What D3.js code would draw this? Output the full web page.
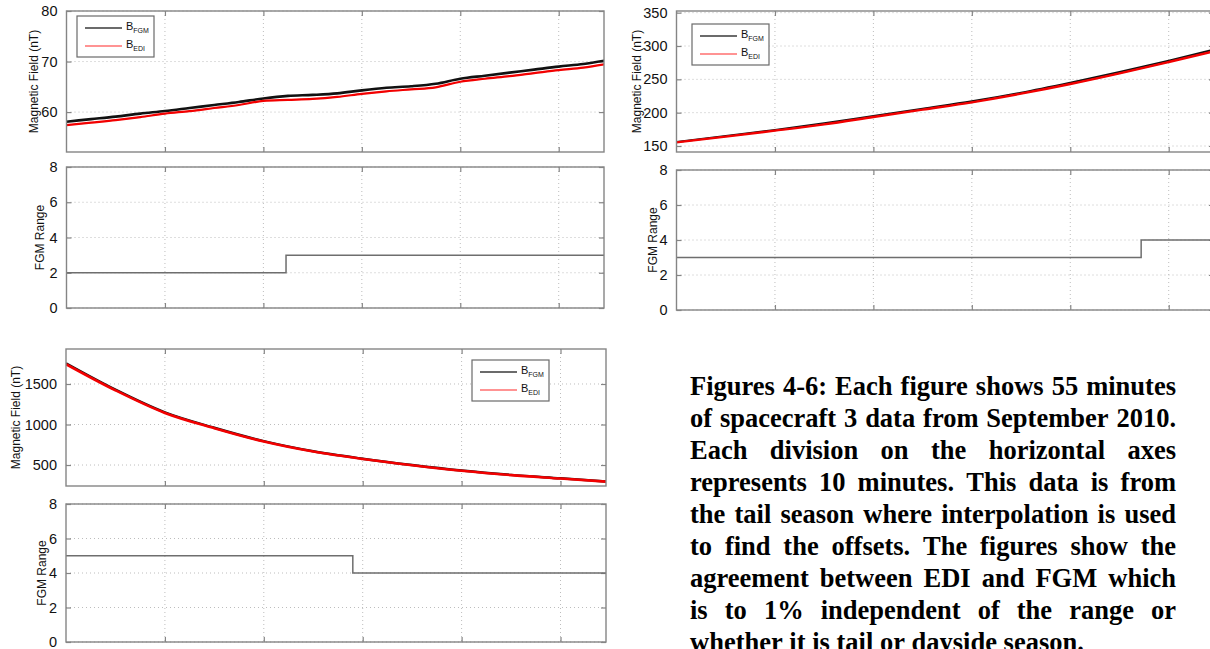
<!DOCTYPE html>
<html>
<head>
<meta charset="utf-8">
<script src="https://cdn.jsdelivr.net/npm/d3@7"></script>
<style>
  body { margin: 0; background: #fff; }
  svg { display: block; }
</style>
</head>
<body>
<svg id="fig" width="1210" height="649"></svg>
<script>
// ---- sample times (minutes since start of interval) ----
const tFine = [0, 2.5, 5, 7.5, 10, 12.5, 15, 17.5, 20, 22.5, 25, 27.5, 30, 32.5, 35, 37.5, 40, 42.5, 45, 47.5, 50, 52.5, 55];
const tCoarse = [0, 5, 10, 15, 20, 25, 30, 35, 40, 45, 50, 55];

// ---- Figure 4: |B| from FGM and EDI (nT) ----
const fig4Fgm = [58.1, 58.6, 59.1, 59.7, 60.2, 60.8, 61.4, 62.0, 62.7, 63.2, 63.4, 63.7, 64.3, 64.8, 65.1, 65.6, 66.6, 67.2, 67.8, 68.4, 69.0, 69.5, 70.3];
const fig4Edi = [57.4, 57.9, 58.4, 59.0, 59.7, 60.2, 60.8, 61.4, 62.2, 62.4, 62.6, 63.0, 63.6, 64.1, 64.5, 64.9, 66.0, 66.6, 67.1, 67.7, 68.3, 68.8, 69.6];
const fig4RangeTimes = [0, 22.3, 54.6];
const fig4RangeValues = [2, 3, 3];

// ---- Figure 5 ----
const fig5Fgm = [156, 165, 174, 184, 195, 206, 217, 230, 245, 261, 278, 296];
const fig5Edi = [155.5, 164, 173, 182.5, 193.5, 204.5, 215.5, 228.5, 243, 259, 276, 293.5];
const fig5RangeTimes = [0, 47.2, 54.6];
const fig5RangeValues = [3, 4, 4];

// ---- Figure 6 ----
const fig6Fgm = [1755, 1430, 1150, 960, 795, 670, 578, 500, 432, 378, 336, 294];
const fig6Edi = [1745, 1422, 1143, 954, 790, 666, 574, 497, 429, 375, 333, 291];
const fig6RangeTimes = [0, 29.0, 54.6];
const fig6RangeValues = [5, 4, 4];

// ---- axis ticks ----
const timeTicks = [10, 20, 30, 40, 50];
const fig4FieldTicks = [60, 70, 80];
const fig5FieldTicks = [150, 200, 250, 300, 350];
const fig6FieldTicks = [500, 1000, 1500];
const rangeTicks = [0, 2, 4, 6, 8];

const captionLines = [
  "Figures 4-6: Each figure shows 55 minutes",
  "of spacecraft 3 data from September 2010.",
  "Each division on the horizontal axes",
  "represents 10 minutes. This data is from",
  "the tail season where interpolation is used",
  "to find the offsets. The figures show the",
  "agreement between EDI and FGM which",
  "is to 1% independent of the range or",
  "whether it is tail or dayside season."
];

const svg = d3.select("#fig");
const FRAME = "#858585";
const GRID = "#bdbdbd";
const SANS = "'Liberation Sans', Arial, Helvetica, sans-serif";
let clipId = 0;

function zipSeries(ts, vs) { return ts.map((t, i) => ({ t, v: vs[i] })); }

function drawAxesBox(g, x, y, w, h, xScale, yScale, yTicks, title, titleDx) {
  // dotted grid
  g.append("g").selectAll("line").data(timeTicks).join("line")
    .attr("x1", d => xScale(d)).attr("x2", d => xScale(d))
    .attr("y1", y).attr("y2", y + h)
    .attr("stroke", GRID).attr("stroke-width", 1).attr("stroke-dasharray", "1,3");
  g.append("g").selectAll("line").data(yTicks).join("line")
    .attr("x1", x).attr("x2", x + w)
    .attr("y1", d => yScale(d)).attr("y2", d => yScale(d))
    .attr("stroke", GRID).attr("stroke-width", 1).attr("stroke-dasharray", "1,3");

  // axes on all four sides, ticks pointing inward; only the left one is labelled
  const xb = d3.axisTop(xScale).tickValues(timeTicks).tickSize(5).tickFormat("");
  const xt = d3.axisBottom(xScale).tickValues(timeTicks).tickSize(5).tickFormat("");
  const yl = d3.axisLeft(yScale).tickValues(yTicks).tickSize(-5).tickPadding(9).tickFormat(d3.format("d"));
  const yr = d3.axisRight(yScale).tickValues(yTicks).tickSize(-5).tickFormat("");

  const styleAxis = a => {
    a.select(".domain").remove();
    a.selectAll(".tick line").attr("stroke", FRAME).attr("stroke-width", 1.2);
    a.selectAll(".tick text").attr("fill", "#111").attr("font-family", SANS).attr("font-size", 14.5);
  };
  g.append("g").attr("transform", `translate(0,${y + h})`).call(xb).call(styleAxis);
  g.append("g").attr("transform", `translate(0,${y})`).call(xt).call(styleAxis);
  g.append("g").attr("transform", `translate(${x},0)`).call(yl).call(styleAxis);
  g.append("g").attr("transform", `translate(${x + w},0)`).call(yr).call(styleAxis);

  // vertical axis title
  g.append("text")
    .attr("transform", `translate(${x + titleDx},${y + h / 2}) rotate(-90)`)
    .attr("text-anchor", "middle").attr("dominant-baseline", "central")
    .attr("font-family", SANS).attr("font-size", 12).attr("fill", "#111")
    .text(title);
}

function drawFrame(g, x, y, w, h) {
  g.append("rect").attr("x", x).attr("y", y).attr("width", w).attr("height", h)
    .attr("fill", "none").attr("stroke", FRAME).attr("stroke-width", 1.4);
}

function clipRect(x, y, w, h) {
  const id = "clip" + (clipId++);
  svg.append("clipPath").attr("id", id).append("rect")
    .attr("x", x).attr("y", y).attr("width", w).attr("height", h);
  return `url(#${id})`;
}

function fieldPanel(p) {
  const g = svg.append("g");
  const xScale = d3.scaleLinear().domain([0, 54.6]).range([p.x, p.x + p.w]);
  const yScale = d3.scaleLinear().domain(p.yDomain).range([p.y + p.h, p.y]);
  drawAxesBox(g, p.x, p.y, p.w, p.h, xScale, yScale, p.yTicks, "Magnetic Field (nT)", p.titleDx);

  const line = d3.line().x(d => xScale(d.t)).y(d => yScale(d.v)).curve(d3.curveMonotoneX);
  const plot = g.append("g").attr("clip-path", clipRect(p.x, p.y, p.w, p.h));
  plot.append("path").datum(zipSeries(p.times, p.fgm))
    .attr("d", line).attr("fill", "none").attr("stroke", "#111").attr("stroke-width", p.fgmWidth);
  plot.append("path").datum(zipSeries(p.times, p.edi))
    .attr("d", line).attr("fill", "none").attr("stroke", "#ff9a9a").attr("stroke-width", 1.2);
  plot.append("path").datum(zipSeries(p.times, p.edi))
    .attr("d", line).attr("fill", "none").attr("stroke", "#f20000").attr("stroke-width", p.ediWidth);

  // legend box
  const L = p.legend;
  g.append("rect").attr("x", L.x).attr("y", L.y).attr("width", 77).attr("height", 41)
    .attr("fill", "#fff").attr("stroke", "#6a6a6a").attr("stroke-width", 1.2);
  const entries = [
    { sub: "FGM", color: "#3a3a3a", dy: 12 },
    { sub: "EDI", color: "#ff6f6f", dy: 30 }
  ];
  entries.forEach(e => {
    g.append("line").attr("x1", L.x + 8).attr("x2", L.x + 45)
      .attr("y1", L.y + e.dy).attr("y2", L.y + e.dy)
      .attr("stroke", e.color).attr("stroke-width", 1.5);
    const t = g.append("text").attr("x", L.x + 49).attr("y", L.y + e.dy + 2)
      .attr("font-family", SANS).attr("font-size", 11).attr("fill", "#111");
    t.append("tspan").text("B");
    t.append("tspan").attr("dy", 3).attr("font-size", 7).text(e.sub);
  });

  drawFrame(g, p.x, p.y, p.w, p.h);
}

function rangePanel(p) {
  const g = svg.append("g");
  const xScale = d3.scaleLinear().domain([0, 54.6]).range([p.x, p.x + p.w]);
  const yScale = d3.scaleLinear().domain([0, 8]).range([p.y + p.h, p.y]);
  drawAxesBox(g, p.x, p.y, p.w, p.h, xScale, yScale, rangeTicks, "FGM Range", p.titleDx);
  const line = d3.line().x(d => xScale(d.t)).y(d => yScale(d.v)).curve(d3.curveStepAfter);
  g.append("g").attr("clip-path", clipRect(p.x, p.y, p.w, p.h))
    .append("path").datum(zipSeries(p.times, p.values))
    .attr("d", line).attr("fill", "none").attr("stroke", "#6e6e6e").attr("stroke-width", 1.5);
  drawFrame(g, p.x, p.y, p.w, p.h);
}

// ---- Figure 4 (top left) ----
fieldPanel({
  x: 66.5, y: 11, w: 537.5, h: 141, yDomain: [52.1, 80], yTicks: fig4FieldTicks, titleDx: -33,
  times: tFine, fgm: fig4Fgm, edi: fig4Edi, fgmWidth: 2.6, ediWidth: 2.2,
  legend: { x: 77, y: 16 }
});
rangePanel({ x: 66.5, y: 167, w: 537.5, h: 141, titleDx: -27, times: fig4RangeTimes, values: fig4RangeValues });

// ---- Figure 5 (top right) ----
fieldPanel({
  x: 676.5, y: 11, w: 537.5, h: 141, yDomain: [141, 352.5], yTicks: fig5FieldTicks, titleDx: -40,
  times: tCoarse, fgm: fig5Fgm, edi: fig5Edi, fgmWidth: 2, ediWidth: 2.4,
  legend: { x: 692, y: 24 }
});
rangePanel({ x: 676.5, y: 170, w: 537.5, h: 140, titleDx: -24, times: fig5RangeTimes, values: fig5RangeValues });

// ---- Figure 6 (bottom left) ----
fieldPanel({
  x: 66, y: 349, w: 540, h: 137, yDomain: [241, 1932], yTicks: fig6FieldTicks, titleDx: -50,
  times: tCoarse, fgm: fig6Fgm, edi: fig6Edi, fgmWidth: 2.4, ediWidth: 2.6,
  legend: { x: 472, y: 360 }
});
rangePanel({ x: 66, y: 504, w: 540, h: 138, titleDx: -24, times: fig6RangeTimes, values: fig6RangeValues });

// ---- caption, fully justified ----
const cap = svg.append("g").attr("font-family", "'Liberation Serif', 'Times New Roman', serif")
  .attr("font-weight", "bold").attr("font-size", 26.5).attr("fill", "#000");
const capLeft = 690, capWidth = 486, capTop = 395, capLead = 32;
captionLines.forEach((lineText, i) => {
  const words = lineText.split(" ");
  const y = capTop + i * capLead;
  const nodes = words.map(w => cap.append("text").attr("y", y).text(w));
  const widths = nodes.map(n => n.node().getComputedTextLength());
  const total = d3.sum(widths);
  const last = i === captionLines.length - 1;
  const gap = last ? 26.5 * 0.25 : (capWidth - total) / (words.length - 1);
  let cx = capLeft;
  nodes.forEach((n, k) => { n.attr("x", cx); cx += widths[k] + gap; });
});
</script>
</body>
</html>
